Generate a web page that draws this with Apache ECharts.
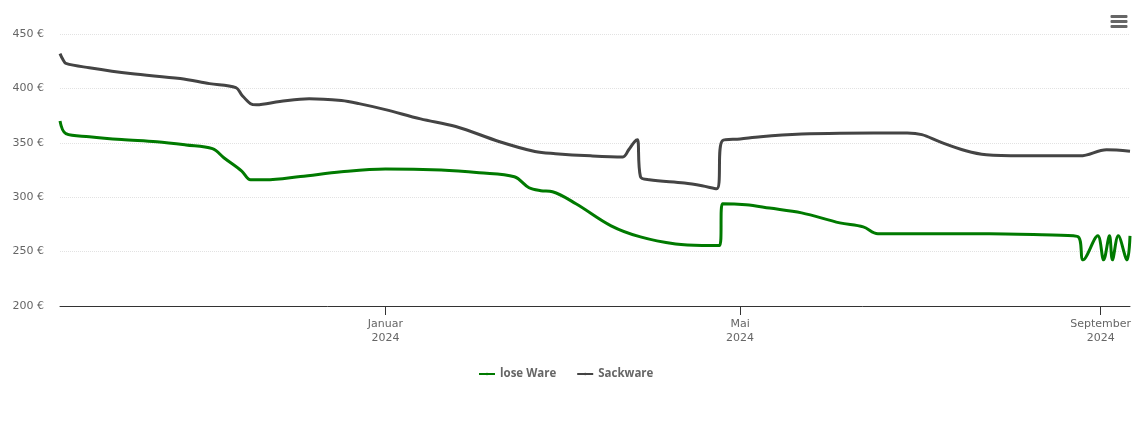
<!DOCTYPE html>
<html>
<head>
<meta charset="utf-8">
<style>
html, body { margin: 0; padding: 0; background: #fff; }
#chart { width: 1140px; height: 434px; }
</style>
<script src="https://cdn.jsdelivr.net/npm/echarts@6/dist/echarts.min.js"></script>
</head>
<body>
<div id="chart"></div>
<script>
// Werte
var loseDates = ['2023-09-12','2023-09-14','2023-09-22','2023-10-03','2023-10-15','2023-10-25','2023-11-03','2023-11-07','2023-11-13','2023-11-16','2023-11-21','2023-12-03','2023-12-17','2024-01-01','2024-01-20','2024-02-02','2024-02-14','2024-02-19','2024-02-23','2024-02-27','2024-03-06','2024-03-18','2024-03-28','2024-04-09','2024-04-18','2024-04-24','2024-04-25','2024-05-03','2024-05-11','2024-05-22','2024-06-04','2024-06-12','2024-06-17','2024-07-12','2024-07-25','2024-08-12','2024-08-24','2024-08-26','2024-08-31','2024-09-02','2024-09-04','2024-09-05','2024-09-07','2024-09-10','2024-09-11'];
var loseValues = [370,358.4,355.6,353,351,348,344.6,336,324,316,316,319,323.4,326,325,322.5,318.8,308.7,306,305,294,273.7,263.5,257,255.7,255.7,294,293,290,285.6,276.4,272.7,266.3,266.3,266.3,265.4,264,242.4,264.5,242.4,264.5,242.4,264.5,242.4,264.5];

var sackDates = ['2023-09-12','2023-09-13','2023-09-14','2023-09-22','2023-10-06','2023-10-23','2023-11-02','2023-11-11','2023-11-13','2023-11-16','2023-11-18','2023-11-26','2023-12-06','2023-12-17','2023-12-23','2024-01-01','2024-01-13','2024-01-25','2024-02-09','2024-02-21','2024-02-28','2024-03-11','2024-03-22','2024-03-24','2024-03-26','2024-03-27','2024-03-28','2024-03-31','2024-04-12','2024-04-18','2024-04-23','2024-04-25','2024-05-01','2024-05-08','2024-05-22','2024-06-04','2024-06-27','2024-07-02','2024-07-08','2024-07-17','2024-07-24','2024-08-05','2024-08-25','2024-09-03','2024-09-11'];
var sackValues = [432,426.5,423,419,413.6,409,404.4,400.7,394,386,385,388,390.6,388.8,386,380.5,372,365,351,342,340,338,337,343.6,351,352.8,319,316,313,310.5,307.7,352,353.5,355.6,358,358.8,359,357.5,351,342.7,339,338,338,343.6,342.3];

var tickDates = ['2024-01-01','2024-05-01','2024-09-01'];
var tickLabels = ['Januar\n2024','Mai\n2024','September\n2024'];

function toTime(d) {
  return echarts.time.parse(d).getTime();
}

function toPairs(dates, values) {
  var out = [];
  for (var i = 0; i < dates.length; i++) {
    out.push([toTime(dates[i]), values[i]]);
  }
  return out;
}

var tickTimes = tickDates.map(toTime);

var myChart = echarts.init(document.getElementById('chart'));
var option = {
  animation: false,
  textStyle: { fontFamily: 'DejaVu Sans' },
  grid: { left: 60, right: 10, top: 34, bottom: 128 },
  legend: {
    top: 363,
    left: 473,
    itemWidth: 16,
    itemHeight: 3,
    itemGap: 20,
    textStyle: { color: '#666', fontSize: 11.5, fontWeight: 'bold', fontFamily: 'Open Sans' },
    data: ['lose Ware', 'Sackware']
  },
  // Zeitachse als value-Achse, sonst gehen customValues nicht
  xAxis: {
    type: 'value',
    min: toTime('2023-09-12'),
    max: toTime('2024-09-11'),
    axisLine: { onZero: false, lineStyle: { color: '#333', width: 1 } },
    axisTick: { show: true, customValues: tickTimes, length: 9, lineStyle: { color: '#333', width: 1 } },
    axisLabel: {
      customValues: tickTimes,
      hideOverlap: false,
      margin: 11,
      color: '#666',
      fontSize: 11,
      lineHeight: 14,
      formatter: function (value) {
        return tickLabels[tickTimes.indexOf(value)];
      }
    },
    splitLine: { show: false }
  },
  yAxis: {
    type: 'value',
    min: 200,
    max: 450,
    interval: 50,
    axisLine: { show: false },
    axisTick: { show: false },
    axisLabel: {
      margin: 16,
      color: '#666',
      fontSize: 11,
      formatter: '{value} €'
    },
    splitLine: { lineStyle: { color: '#e2e2e2', type: 'dotted', width: 1 } }
  },
  series: [
    {
      name: 'lose Ware',
      type: 'line',
      showSymbol: false,
      symbol: 'none',
      smooth: 0.35,
      lineStyle: { color: '#007a00', width: 3 },
      itemStyle: { color: '#007a00' },
      data: toPairs(loseDates, loseValues)
    },
    {
      name: 'Sackware',
      type: 'line',
      showSymbol: false,
      symbol: 'none',
      smooth: 0.35,
      lineStyle: { color: '#444', width: 3 },
      itemStyle: { color: '#444' },
      data: toPairs(sackDates, sackValues)
    }
  ],
  graphic: [
    { type: 'rect', shape: { x: 1110.5, y: 15, width: 17, height: 3, r: 1 }, style: { fill: '#666' } },
    { type: 'rect', shape: { x: 1110.5, y: 20, width: 17, height: 3, r: 1 }, style: { fill: '#666' } },
    { type: 'rect', shape: { x: 1110.5, y: 25, width: 17, height: 3, r: 1 }, style: { fill: '#666' } }
  ]
};
myChart.setOption(option);
</script>
</body>
</html>
